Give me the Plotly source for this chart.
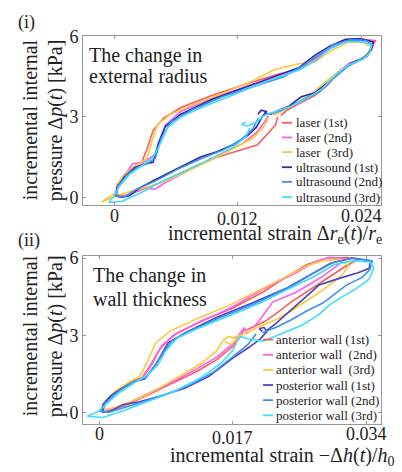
import plotly.graph_objects as go

W, H = 402, 472
FONT = "Liberation Serif, Times New Roman, serif"

# ---------------- Panel (i): change in external radius ----------------
laser1_x = [0.0159, 0.0157, 0.0150, 0.0139, 0.0116, 0.0094, 0.0070, 0.0045, 0.0025, 0.0010, 0.0002,
            0.0003, 0.0010, 0.0020, 0.0027, 0.0033, 0.0038, 0.0048, 0.0065, 0.0095, 0.0130, 0.0160, 0.0178,
            0.0195, 0.0210, 0.0225, 0.0240, 0.0254,
            0.0250, 0.0246, 0.0232, 0.0220, 0.0208, 0.0195, 0.0180, 0.0168, 0.0162]
laser1_y = [3.00, 2.70, 2.40, 1.95, 1.68, 1.42, 1.00, 0.55, 0.25, 0.05, 0.10,
            0.45, 0.85, 1.15, 1.30, 1.90, 2.50, 2.95, 3.35, 3.80, 4.25, 4.60, 4.75,
            5.15, 5.55, 5.85, 5.90, 5.85,
            5.55, 5.25, 5.05, 4.75, 4.20, 3.80, 3.50, 3.25, 3.05]

laser2_x = [0.0150, 0.0146, 0.0138, 0.0125, 0.0100, 0.0075, 0.0050, 0.0040, 0.0030, 0.0015, 0.0005, 0.0000,
            0.0005, 0.0012, 0.0018, 0.0028, 0.0040, 0.0045, 0.0050, 0.0065, 0.0095, 0.0130, 0.0160, 0.0180,
            0.0195, 0.0212, 0.0228, 0.0245, 0.0253,
            0.0248, 0.0240, 0.0228, 0.0215, 0.0200, 0.0185, 0.0170, 0.0160, 0.0152]
laser2_y = [3.05, 2.80, 2.40, 2.00, 1.55, 1.05, 0.55, 0.30, 0.35, 0.10, 0.00, 0.10,
            0.50, 0.90, 1.25, 1.30, 1.60, 2.20, 2.70, 3.20, 3.70, 4.15, 4.50, 4.80,
            5.20, 5.60, 5.88, 5.85, 5.80,
            5.40, 5.15, 5.00, 4.55, 4.00, 3.65, 3.35, 3.20, 3.10]

laser3_x = [0.0150, 0.0145, 0.0135, 0.0118, 0.0095, 0.0070, 0.0050, 0.0030, 0.0015, 0.0003, -0.0012,
            0.0003, 0.0005, 0.0015, 0.0025, 0.0032, 0.0037, 0.0042, 0.0055, 0.0080, 0.0110, 0.0135, 0.0155,
            0.0178, 0.0195, 0.0210, 0.0228, 0.0242, 0.0250,
            0.0245, 0.0232, 0.0218, 0.0205, 0.0190, 0.0175, 0.0162, 0.0155]
laser3_y = [2.95, 2.60, 2.20, 1.85, 1.40, 0.95, 0.60, 0.35, 0.20, 0.05, -0.18,
            0.20, 0.60, 1.00, 1.25, 1.45, 2.10, 2.70, 3.10, 3.50, 3.95, 4.35, 4.75,
            4.98, 5.05, 5.45, 5.80, 5.78, 5.60,
            5.30, 5.00, 4.70, 4.30, 3.80, 3.45, 3.20, 3.05]

us1_x = [0.0140, 0.0143, 0.0148, 0.0144, 0.0138, 0.0128, 0.0115, 0.0100, 0.0084, 0.0060, 0.0040, 0.0025,
         0.0015, 0.0008, 0.0002,
         0.0003, 0.0010, 0.0020, 0.0030, 0.0038, 0.0043, 0.0050, 0.0065, 0.0095, 0.0130, 0.0160, 0.0180,
         0.0195, 0.0210, 0.0225, 0.0240, 0.0252,
         0.0250, 0.0243, 0.0230, 0.0218, 0.0207, 0.0195, 0.0182, 0.0170, 0.0160, 0.0152, 0.0146]
us1_y = [3.10, 3.25, 3.20, 3.00, 2.60, 2.25, 1.95, 1.70, 1.50, 1.05, 0.65, 0.35,
         0.05, 0.00, 0.05,
         0.35, 0.75, 1.10, 1.25, 1.30, 2.00, 2.65, 3.10, 3.65, 4.15, 4.55, 4.85,
         5.30, 5.65, 5.90, 5.93, 5.80,
         5.50, 5.20, 5.00, 4.60, 4.25, 3.90, 3.75, 3.40, 3.25, 3.10, 3.15]

us2_x = [0.0140, 0.0135, 0.0122, 0.0105, 0.0085, 0.0062, 0.0040, 0.0022, 0.0010, 0.0002,
         0.0004, 0.0012, 0.0022, 0.0032, 0.0040, 0.0046, 0.0055, 0.0075, 0.0105, 0.0140, 0.0165, 0.0183,
         0.0198, 0.0213, 0.0230, 0.0245, 0.0251,
         0.0247, 0.0238, 0.0225, 0.0212, 0.0200, 0.0186, 0.0172, 0.0160, 0.0148]
us2_y = [2.95, 2.55, 2.10, 1.75, 1.45, 1.05, 0.60, 0.30, 0.00, 0.05,
         0.40, 0.80, 1.10, 1.25, 1.45, 2.20, 2.80, 3.25, 3.75, 4.20, 4.50, 4.90,
         5.30, 5.70, 5.88, 5.85, 5.70,
         5.35, 5.10, 4.85, 4.40, 3.95, 3.70, 3.40, 3.20, 3.10]

us3_x = [0.0128, 0.0124, 0.0130, 0.0138, 0.0146, 0.0158, 0.0172, 0.0188, 0.0202, 0.0215, 0.0228, 0.0242,
         0.0249, 0.0250, 0.0240, 0.0225, 0.0210, 0.0196, 0.0180, 0.0150, 0.0115, 0.0085, 0.0065, 0.0052,
         0.0045, 0.0038, 0.0028, 0.0015, 0.0005, 0.0000, -0.0005, 0.0008, 0.0025, 0.0045, 0.0070, 0.0095,
         0.0115, 0.0128, 0.0132]
us3_y = [2.80, 2.72, 2.66, 2.80, 3.05, 3.20, 3.40, 3.70, 4.05, 4.55, 4.95, 5.15,
         5.40, 5.70, 5.82, 5.80, 5.55, 5.10, 4.75, 4.35, 3.80, 3.35, 3.00, 2.60,
         2.00, 1.50, 1.20, 0.85, 0.40, 0.05, -0.20, -0.15, 0.15, 0.55, 1.00, 1.45,
         1.85, 2.25, 2.60]

# ---------------- Panel (ii): change in wall thickness ----------------
ant1_x = [0.0185, 0.0180, 0.0170, 0.0150, 0.0125, 0.0095, 0.0065, 0.0040, 0.0018, 0.0005,
          0.0008, 0.0020, 0.0040, 0.0055, 0.0065, 0.0078, 0.0095, 0.0130, 0.0170, 0.0210, 0.0240, 0.0265,
          0.0290, 0.0315, 0.0330,
          0.0315, 0.0300, 0.0285, 0.0265, 0.0245, 0.0228, 0.0212, 0.0198, 0.0188]
ant1_y = [3.25, 2.95, 2.55, 2.05, 1.60, 1.15, 0.70, 0.35, 0.10, 0.00,
          0.40, 0.80, 1.20, 1.35, 1.80, 2.50, 3.00, 3.55, 4.05, 4.70, 5.30, 5.75,
          6.00, 6.02, 5.95,
          5.70, 5.40, 5.10, 4.70, 4.30, 3.90, 3.55, 3.35, 3.20]

ant2_x = [0.0189, 0.0185, 0.0180, 0.0170, 0.0150, 0.0125, 0.0095, 0.0065, 0.0040, 0.0020, 0.0005,
          0.0010, 0.0025, 0.0042, 0.0055, 0.0068, 0.0080, 0.0100, 0.0135, 0.0170, 0.0209, 0.0251, 0.0275,
          0.0293, 0.0312,
          0.0314, 0.0302, 0.0285, 0.0272, 0.0251, 0.0221, 0.0205, 0.0196]
ant2_y = [3.05, 3.28, 3.10, 2.65, 2.15, 1.70, 1.20, 0.75, 0.40, 0.15, 0.05,
          0.45, 0.85, 1.15, 1.30, 1.90, 2.60, 3.10, 3.60, 4.10, 4.80, 5.43, 5.85,
          6.03, 5.98,
          5.94, 5.68, 5.30, 5.05, 4.67, 4.29, 3.60, 3.28]

ant3_x = [0.0160, 0.0168, 0.0175, 0.0165, 0.0158, 0.0150, 0.0130, 0.0105, 0.0080, 0.0055, 0.0030, 0.0010,
          0.0000,
          0.0008, 0.0022, 0.0040, 0.0052, 0.0062, 0.0072, 0.0090, 0.0125, 0.0165, 0.0205, 0.0240, 0.0265,
          0.0285, 0.0305, 0.0318,
          0.0310, 0.0298, 0.0285, 0.0265, 0.0245, 0.0225, 0.0205, 0.0185, 0.0170]
ant3_y = [2.75, 2.65, 2.85, 2.95, 2.80, 2.40, 1.90, 1.45, 1.00, 0.60, 0.30, 0.10,
          0.05,
          0.45, 0.85, 1.20, 1.40, 2.00, 2.70, 3.15, 3.65, 4.15, 4.75, 5.30, 5.70,
          5.90, 5.95, 5.70,
          5.35, 5.05, 4.75, 4.35, 3.95, 3.60, 3.35, 3.05, 2.90]

post1_x = [0.0208, 0.0204, 0.0210, 0.0214, 0.0205, 0.0192, 0.0170, 0.0140, 0.0110, 0.0080, 0.0050, 0.0030,
           0.0015, 0.0005,
           0.0005, 0.0015, 0.0030, 0.0045, 0.0058, 0.0072, 0.0088, 0.0110, 0.0150, 0.0195, 0.0240, 0.0270,
           0.0295, 0.0322, 0.0346,
           0.0344, 0.0330, 0.0305, 0.0280, 0.0262, 0.0240, 0.0225, 0.0212]
post1_y = [3.15, 3.25, 3.30, 3.15, 2.85, 2.55, 2.10, 1.40, 0.95, 0.65, 0.40, 0.30,
           0.05, 0.00,
           0.30, 0.65, 0.95, 1.20, 1.30, 1.85, 2.70, 3.10, 3.70, 4.25, 4.85, 5.35,
           5.80, 6.00, 5.90,
           5.60, 5.43, 5.20, 4.95, 4.45, 3.85, 3.45, 3.15]

post2_x = [0.0200, 0.0190, 0.0172, 0.0145, 0.0115, 0.0085, 0.0055, 0.0030, 0.0012, 0.0002,
           0.0008, 0.0020, 0.0035, 0.0050, 0.0060, 0.0075, 0.0092, 0.0115, 0.0155, 0.0200, 0.0245, 0.0275,
           0.0300, 0.0325, 0.0348,
           0.0345, 0.0335, 0.0315, 0.0300, 0.0285, 0.0265, 0.0245, 0.0225, 0.0208]
post2_y = [3.05, 2.65, 2.20, 1.55, 1.05, 0.70, 0.40, 0.15, 0.00, 0.05,
           0.35, 0.70, 1.05, 1.25, 1.35, 2.00, 2.75, 3.15, 3.70, 4.25, 4.90, 5.45,
           5.85, 6.00, 5.88,
           5.55, 5.25, 4.95, 4.60, 4.25, 3.95, 3.60, 3.30, 3.10]

post3_x = [0.0175, 0.0180, 0.0190, 0.0209, 0.0235, 0.0259, 0.0280, 0.0293, 0.0310, 0.0327, 0.0344, 0.0350,
           0.0345, 0.0325, 0.0300, 0.0275, 0.0245, 0.0205, 0.0165, 0.0125, 0.0100, 0.0085, 0.0075, 0.0062,
           0.0045, 0.0025, 0.0010, 0.0000, -0.0015, 0.0005, 0.0030, 0.0060, 0.0095, 0.0130, 0.0155, 0.0170,
           0.0175]
post3_y = [2.75, 2.95, 2.85, 2.77, 3.10, 3.40, 3.80, 4.17, 4.50, 4.80, 5.18, 5.60,
           5.85, 5.90, 5.75, 5.30, 4.85, 4.25, 3.75, 3.25, 2.90, 2.40, 1.85, 1.45,
           1.15, 0.75, 0.35, 0.05, -0.15, -0.20, 0.05, 0.40, 0.80, 1.35, 1.90, 2.40,
           2.70]

names_i = ["laser (1st)", "laser (2nd)", "laser  (3rd)",
           "ultrasound (1st)", "ultrasound (2nd)", "ultrasound (3rd)"]
names_ii = ["anterior wall (1st)", "anterior wall  (2nd)", "anterior wall  (3rd)",
            "posterior wall (1st)", "posterior wall (2nd)", "posterior wall (3rd)"]
colors_i = ["#ff5a5a", "#ff5cf0", "#ffc83c", "#2a2aa6", "#3c8ff0", "#3fdcff"]
colors_ii = ["#ff5a5a", "#ff5cf0", "#ffc83c", "#4a44c0", "#3c8ff0", "#3fdcff"]

xticks_i = [0, 0.012, 0.024]
xticks_ii = [0, 0.017, 0.034]
yticks = [0, 3, 6]

series_i = [(laser1_x, laser1_y), (laser2_x, laser2_y), (laser3_x, laser3_y),
            (us1_x, us1_y), (us2_x, us2_y), (us3_x, us3_y)]
series_ii = [(ant1_x, ant1_y), (ant2_x, ant2_y), (ant3_x, ant3_y),
             (post1_x, post1_y), (post2_x, post2_y), (post3_x, post3_y)]


def px(x):
    return x / W


def py(y):
    return 1 - y / H


fig = go.Figure()
for (xs, ys), nm, c in zip(series_i, names_i, colors_i):
    fig.add_trace(go.Scatter(x=xs, y=ys, mode="lines", name=nm, line=dict(color=c, width=1.6),
                             xaxis="x", yaxis="y", showlegend=False))
for (xs, ys), nm, c in zip(series_ii, names_ii, colors_ii):
    fig.add_trace(go.Scatter(x=xs, y=ys, mode="lines", name=nm, line=dict(color=c, width=1.6),
                             xaxis="x2", yaxis="y2", showlegend=False))

axis_common = dict(showgrid=False, zeroline=False, showline=True, linecolor="#999999", linewidth=1,
                   mirror="ticks", ticks="inside", ticklen=3, tickcolor="#999999",
                   tickfont=dict(family=FONT, size=18, color="#222"))

fig.update_layout(
    width=W, height=H, autosize=False,
    margin=dict(l=0, r=0, t=0, b=0),
    paper_bgcolor="white", plot_bgcolor="white",
    font=dict(family=FONT),
    xaxis=dict(domain=[px(83), px(381)], anchor="y", range=[-0.003012, 0.025943],
               tickvals=xticks_i, showticklabels=False, **axis_common),
    yaxis=dict(domain=[py(201), py(28)], anchor="x", range=[-0.303, 6.01],
               tickvals=yticks, **axis_common),
    xaxis2=dict(domain=[px(83), px(381)], anchor="y2", range=[-0.00204, 0.03591],
                tickvals=xticks_ii, showticklabels=False, **axis_common),
    yaxis2=dict(domain=[py(425), py(253)], anchor="x2", range=[-0.456, 6.076],
                tickvals=yticks, **axis_common),
)

ann = []
shapes = []


def text(x, y, s, size, xanchor="left", angle=0, color="#222", xref="paper"):
    ann.append(dict(x=(px(x) if xref == "paper" else x), y=py(y), xref=xref, yref="paper", text=s,
                    showarrow=False, xanchor=xanchor, yanchor="middle", textangle=angle,
                    font=dict(family=FONT, size=size, color=color)))


# x tick labels (staggered as in the figure)
for v, yy in zip(xticks_i, [212, 215, 212]):
    text(v, yy, f"{v:g}", 18, xanchor="center", xref="x")
for v, yy in zip(xticks_ii, [435, 439, 435]):
    text(v, yy, f"{v:g}", 18, xanchor="center", xref="x2")

# panel labels
text(16, 14, "(i)", 18)
text(16, 237, "(ii)", 18)

# y titles
for cy in (114, 335):
    text(30, cy, "incremental internal", 20, xanchor="center", angle=-90)
    text(55, cy, "pressure Δ<i>p</i>(<i>t</i>) [kPa]", 20, xanchor="center", angle=-90)

# x titles
text(384, 231, "incremental strain Δ<i>r</i><sub>e</sub>(<i>t</i>)/<i>r</i><sub>e</sub>", 20, xanchor="right")
text(396, 458, "incremental strain −Δ<i>h</i>(<i>t</i>)/<i>h</i><sub>0</sub>", 20, xanchor="right")

# in-plot titles
text(87, 48, "The change in", 20)
text(87, 69, "external radius", 20)
text(91, 273, "The change in", 20)
text(91, 297, "wall thickness", 20)

# legends
leg_i_y = [116.5, 131.5, 146.5, 162, 177, 192.5]
for yy, nm, c in zip(leg_i_y, names_i, colors_i):
    shapes.append(dict(type="line", xref="paper", yref="paper", x0=px(282), x1=px(292), y0=py(yy), y1=py(yy),
                       line=dict(color=c, width=1.8)))
    text(294, yy, nm, 13)
leg_ii_y = [338.5, 354, 369.5, 385, 400.5, 416]
for yy, nm, c in zip(leg_ii_y, names_ii, colors_ii):
    shapes.append(dict(type="line", xref="paper", yref="paper", x0=px(263), x1=px(273), y0=py(yy), y1=py(yy),
                       line=dict(color=c, width=1.8)))
    text(274, yy, nm, 13)

fig.update_layout(annotations=ann, shapes=shapes)
fig.write_html("out.html")
